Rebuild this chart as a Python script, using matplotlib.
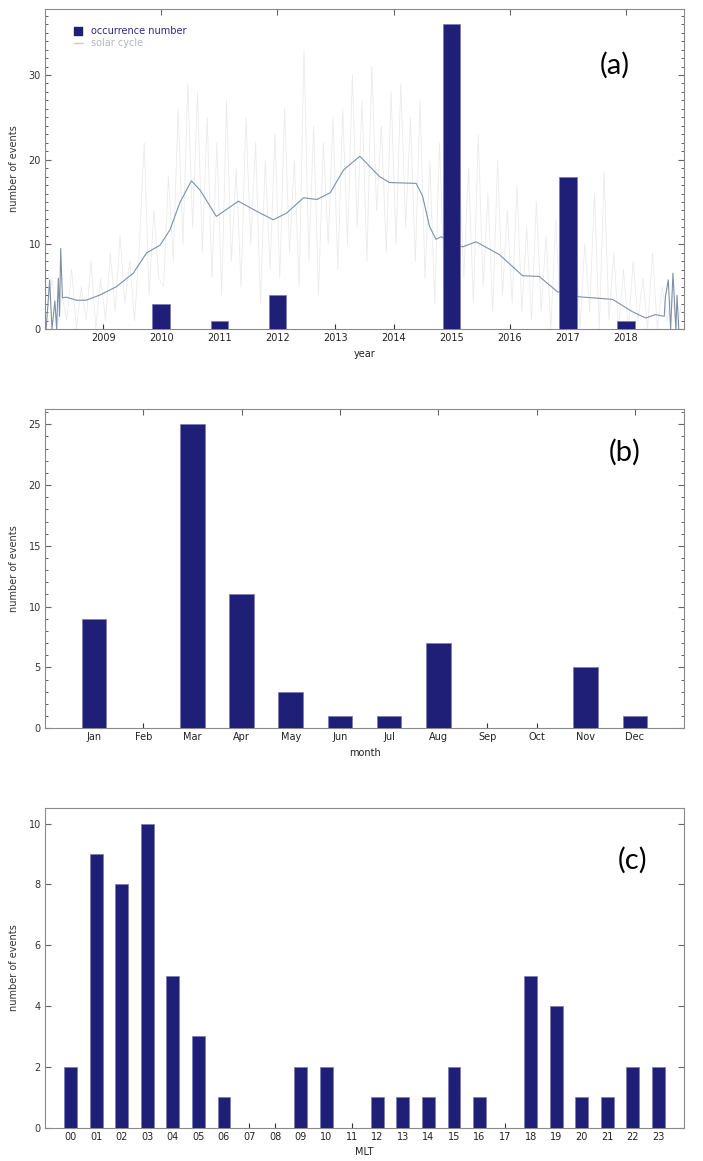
import matplotlib as mpl
mpl.use('Agg')
import matplotlib.pyplot as plt
import numpy as np

# panel (a): occurrence per year
years = [2010, 2011, 2012, 2015, 2017, 2018]
year_counts = [3, 1, 4, 36, 18, 1]

# solar cycle, smoothed curve
sc_year = [2008.02, 2008.08, 2008.12, 2008.17, 2008.20, 2008.23, 2008.25, 2008.27, 2008.30,
           2008.37, 2008.54, 2008.71, 2008.94, 2009.23, 2009.52, 2009.75, 2009.98, 2010.15,
           2010.32, 2010.52, 2010.67, 2010.95, 2011.33, 2011.59, 2011.93, 2012.16, 2012.45,
           2012.68, 2012.91, 2013.14, 2013.42, 2013.76, 2013.93, 2014.39, 2014.50, 2014.62,
           2014.73, 2014.82, 2015.00, 2015.19, 2015.42, 2015.82, 2016.22, 2016.51, 2016.82,
           2017.20, 2017.77, 2018.11, 2018.34, 2018.51, 2018.66, 2018.68, 2018.73, 2018.77,
           2018.81, 2018.86, 2018.88, 2018.91]
sc_smooth = [0.0, 5.8, 0.0, 3.3, 0.0, 6.0, 1.5, 9.5, 3.7,
             3.75, 3.4, 3.4, 4.0, 5.0, 6.6, 9.0, 9.9, 11.7,
             14.9, 17.5, 16.4, 13.3, 15.1, 14.1, 12.9, 13.7, 15.5,
             15.3, 16.1, 18.8, 20.4, 18.0, 17.3, 17.2, 15.7, 12.1,
             10.6, 10.9, 10.2, 9.7, 10.3, 8.8, 6.3, 6.2, 4.4,
             3.8, 3.5, 2.05, 1.3, 1.7, 1.5, 3.8, 5.8, 0.0,
             6.6, 0.0, 4.0, 0.0]

# solar cycle, raw monthly-ish spikes (one row per year, 2008..2018)
sc_raw = [
    2, 6, 0, 4, 1, 7, 0, 5, 1, 8, 0, 6,
    1, 9, 2, 11, 3, 8, 1, 10, 22, 4, 14, 6,
    5, 18, 8, 26, 10, 29, 12, 28, 9, 25, 6, 22,
    4, 27, 8, 19, 5, 25, 10, 22, 3, 20, 7, 23,
    6, 26, 9, 20, 5, 33, 8, 24, 4, 22, 10, 25,
    7, 26, 10, 30, 12, 27, 8, 31, 14, 24, 9, 28,
    10, 29, 12, 25, 8, 27, 6, 20, 3, 22, 5, 18,
    4, 21, 6, 19, 3, 23, 5, 16, 2, 20, 4, 14,
    3, 17, 2, 12, 1, 15, 2, 11, 0, 13, 1, 9,
    1, 13, 0, 10, 2, 16, 0, 18.5, 1, 9, 0, 7,
    0, 8, 1, 6, 0, 9, 0, 5, 1, 4, 0, 3,
]
raw_t = 2008.0 + (np.arange(len(sc_raw)) + 0.5) / 12.0

# panel (b): per month
months = ['Jan', 'Feb', 'Mar', 'Apr', 'May', 'Jun', 'Jul', 'Aug', 'Sep', 'Oct', 'Nov', 'Dec']
month_counts = [9, 0, 25, 11, 3, 1, 1, 7, 0, 0, 5, 1]

# panel (c): per MLT hour
mlt_labels = ['%02d' % h for h in range(24)]
mlt_counts = [2, 9, 8, 10, 5, 3, 1, 0, 0, 2, 2, 0, 1, 1, 1, 2, 1, 0, 5, 4, 1, 1, 2, 2]

bar_c = '#1f1f78'
edge_c = '#7a7ab0'
spine_c = '#8a8a8a'
fs = 7

W, H = 703, 1161
fig = plt.figure(figsize=(W / 100, H / 100), dpi=100)

def style(ax, ymax, major, minor=None):
    ax.set_ylim(0, ymax * 1.05)
    for s in ax.spines.values():
        s.set_color(spine_c)
        s.set_linewidth(0.8)
    ax.yaxis.set_major_locator(mpl.ticker.MultipleLocator(major))
    if minor:
        ax.yaxis.set_minor_locator(mpl.ticker.MultipleLocator(minor))
    ax.tick_params(axis='y', which='major', direction='in', left=True, right=True,
                   length=4, width=0.8, color='#666666', labelsize=fs, labelcolor='#333333', pad=3)
    ax.tick_params(axis='y', which='minor', direction='in', left=True, right=True,
                   length=2.3, width=0.7, color='#666666')
    ax.tick_params(axis='x', which='major', direction='in', bottom=True, top=False,
                   length=3.5, width=0.8, color='#333333', labelsize=fs, labelcolor='#222222', pad=3)
    ax.tick_params(axis='x', which='minor', bottom=False, top=False)
    ax.set_ylabel('number of events', fontsize=fs, color='#333333', labelpad=7)

def top_ticks(ax, pos):
    sec = ax.secondary_xaxis('top')
    sec.set_xticks(pos)
    sec.set_xticklabels([])
    sec.tick_params(direction='in', length=4, width=0.8, color='#666666')
    sec.spines['top'].set_visible(False)

# (a)
ax1 = fig.add_axes([45 / W, 1 - 329 / H, 639 / W, 320 / H])
ax1.plot(raw_t, sc_raw, color='#e9ebee', lw=0.6, zorder=1)
ax1.plot(sc_year, sc_smooth, color='#7f90a6', lw=0.8, zorder=2)
ax1.bar(years, year_counts, width=0.3, color=bar_c, edgecolor=edge_c, linewidth=0.5, zorder=3)
ax1.set_xlim(2008, 2019)
style(ax1, max(year_counts), 10, 1)
ax1.set_xticks(range(2009, 2019))
top_ticks(ax1, range(2010, 2019, 2))
ax1.set_xlabel('year', fontsize=fs, color='#222222', labelpad=4)
# legend
ax1.scatter([78 / W], [1 - 31 / H], marker='s', s=30, color=bar_c, transform=fig.transFigure, clip_on=False)
ax1.plot([74 / W, 83 / W], [1 - 43 / H, 1 - 43 / H], color='#c8ccd2', lw=1, transform=fig.transFigure, clip_on=False)
fig.text(91 / W, 1 - 31 / H, 'occurrence number', fontsize=fs, color='#2a2a85', va='center')
fig.text(91 / W, 1 - 43 / H, 'solar cycle', fontsize=fs, color='#b3b7be', va='center')
fig.text(615 / W, 1 - 65 / H, '(a)', fontsize=21, family='Lato', ha='center', va='center')

# (b)
ax2 = fig.add_axes([45 / W, 1 - 728.3 / H, 639 / W, 319.3 / H])
mx = np.arange(1, 13)
ax2.bar(mx, month_counts, width=0.5, color=bar_c, edgecolor=edge_c, linewidth=0.5, zorder=3)
ax2.set_xlim(0, 13)
style(ax2, max(month_counts), 5, 1)
ax2.set_xticks(mx)
ax2.set_xticklabels(months)
top_ticks(ax2, mx[1::2])
ax2.set_xlabel('month', fontsize=fs, color='#222222', labelpad=4)
fig.text(625 / W, 1 - 452 / H, '(b)', fontsize=21, family='Lato', ha='center', va='center')

# (c)
ax3 = fig.add_axes([45 / W, 1 - 1127.7 / H, 639 / W, 319.4 / H])
hx = np.arange(24)
ax3.bar(hx, mlt_counts, width=0.5, color=bar_c, edgecolor=edge_c, linewidth=0.5, zorder=3)
ax3.set_xlim(-1, 24)
style(ax3, max(mlt_counts), 2)
ax3.set_xticks(hx)
ax3.set_xticklabels(mlt_labels)
ax3.set_xlabel('MLT', fontsize=fs, color='#222222', labelpad=4)
fig.text(633 / W, 1 - 860 / H, '(c)', fontsize=21, family='Lato', ha='center', va='center')

fig.savefig('out.png', dpi=100)
